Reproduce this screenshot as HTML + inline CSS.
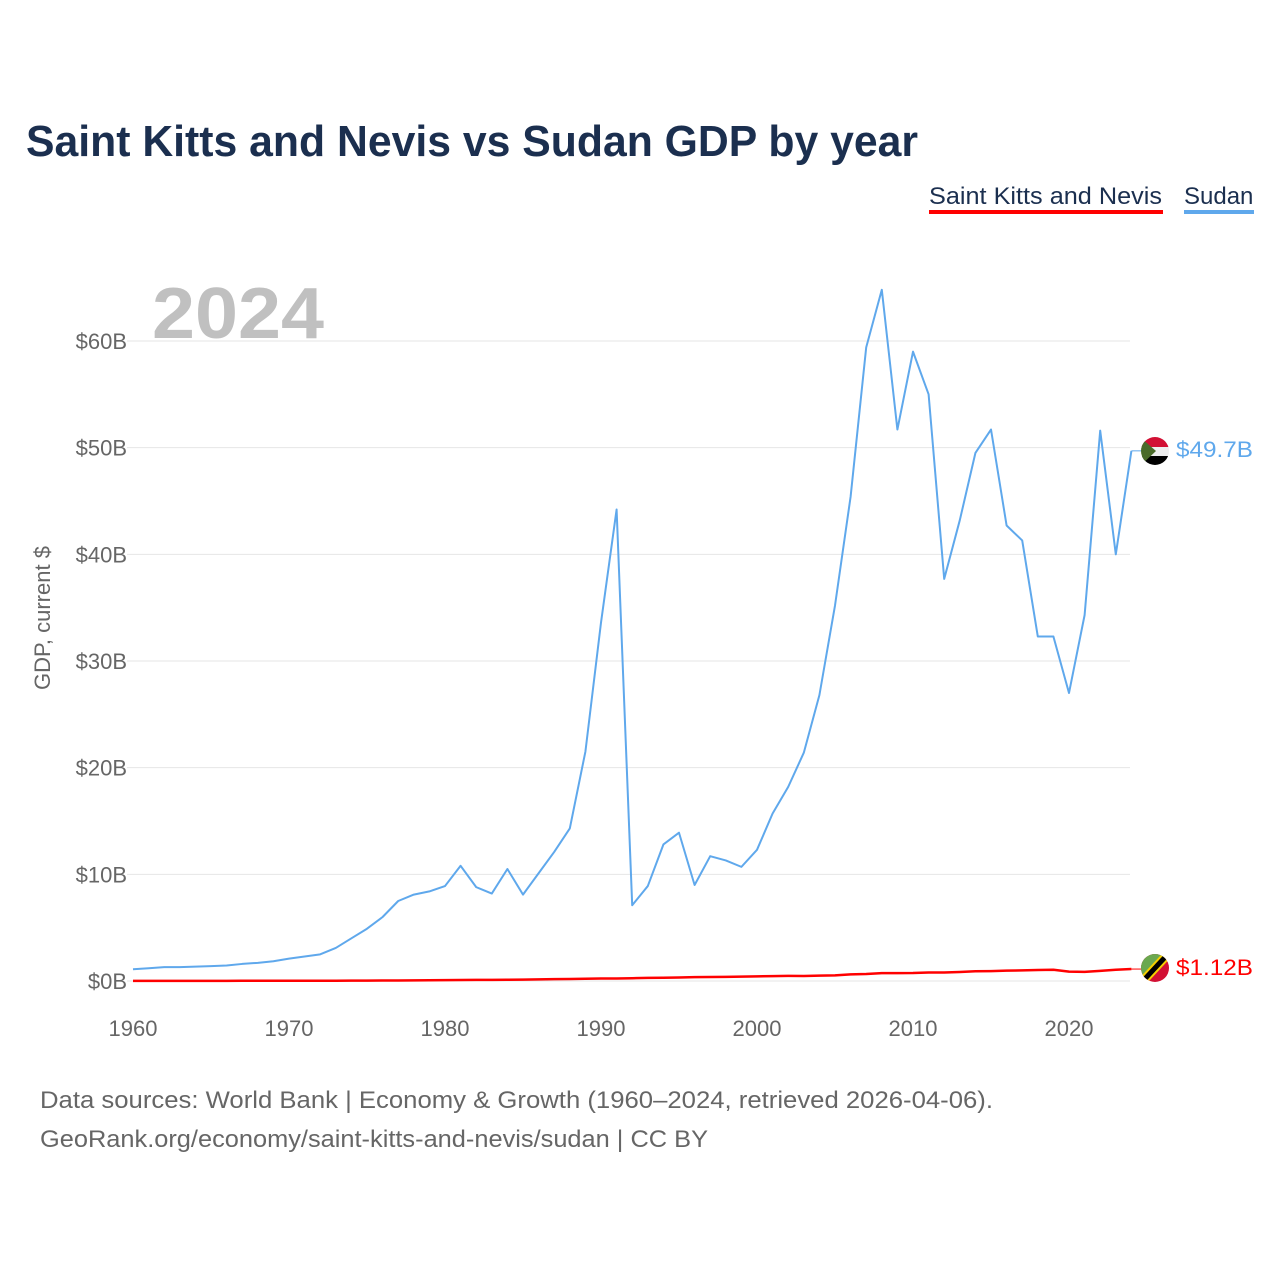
<!DOCTYPE html>
<html><head><meta charset="utf-8"><style>
body{margin:0;background:#fff;width:1280px;height:1280px;overflow:hidden;font-family:"Liberation Sans",sans-serif}
</style></head><body>
<svg id="chart" width="1280" height="1280" xmlns="http://www.w3.org/2000/svg" font-family="Liberation Sans, sans-serif">
<text x="26" y="156" font-size="44" font-weight="bold" fill="#1b2f4f" textLength="892" lengthAdjust="spacingAndGlyphs">Saint Kitts and Nevis vs Sudan GDP by year</text>
<g><text x="929" y="204" font-size="24" fill="#1b2f4f" textLength="233" lengthAdjust="spacingAndGlyphs">Saint Kitts and Nevis</text><rect x="929" y="210" width="234" height="4" fill="#ff0000"/></g>
<g><text x="1184" y="204" font-size="24" fill="#1b2f4f">Sudan</text><rect x="1184" y="210" width="70" height="4" fill="#5fa8ec"/></g>
<text x="152" y="338" font-size="72" font-weight="bold" fill="#c0c0c0" textLength="172" lengthAdjust="spacingAndGlyphs">2024</text>
<text transform="translate(50,618) rotate(-90)" text-anchor="middle" font-size="22" fill="#666">GDP, current $</text>
<g id="grid"></g><g id="xt"></g>
<g id="lines"></g>
<g>
<clipPath id="c1"><circle cx="1155" cy="451" r="14"/></clipPath>
<g clip-path="url(#c1)"><rect x="1140" y="437" width="30" height="10" fill="#d21034"/><rect x="1140" y="447" width="30" height="9" fill="#eee"/><rect x="1140" y="456" width="30" height="10" fill="#000"/><polygon points="1140,437 1156,451 1140,466" fill="#4a6b2a"/></g></g>
<text x="1176" y="457" font-size="22" fill="#5fa8ec" textLength="77" lengthAdjust="spacingAndGlyphs">$49.7B</text>
<g>
<clipPath id="c2"><circle cx="1155" cy="968" r="14"/></clipPath>
<g clip-path="url(#c2)"><rect x="1140" y="953" width="30" height="30" fill="#d21034"/><polygon points="1140,953 1170,953 1140,983" fill="#6aa84f"/><line x1="1142" y1="982" x2="1168" y2="954" stroke="#f5d000" stroke-width="9"/><line x1="1142" y1="982" x2="1168" y2="954" stroke="#000" stroke-width="5"/></g></g>
<text x="1176" y="975" font-size="22" fill="#ff0000" textLength="77" lengthAdjust="spacingAndGlyphs">$1.12B</text>
<text x="40" y="1108" font-size="24" fill="#666" textLength="953" lengthAdjust="spacingAndGlyphs">Data sources: World Bank | Economy &amp; Growth (1960–2024, retrieved 2026-04-06).</text>
<text x="40" y="1147" font-size="24" fill="#666" textLength="668" lengthAdjust="spacingAndGlyphs">GeoRank.org/economy/saint-kitts-and-nevis/sudan | CC BY</text>
</svg>
<script>
const years=[];for(let y=1960;y<=2024;y++)years.push(y);
const sudan=[1.1,1.2,1.3,1.3,1.35,1.4,1.45,1.6,1.7,1.85,2.1,2.3,2.5,3.1,4.0,4.9,6.0,7.5,8.1,8.4,8.9,10.8,8.8,8.2,10.5,8.1,10.1,12.1,14.3,21.5,33.6,44.2,7.1,8.9,12.8,13.9,9.0,11.7,11.3,10.7,12.3,15.7,18.2,21.4,26.8,35.2,45.4,59.4,64.8,51.7,59.0,55.0,37.7,43.2,49.5,51.7,42.7,41.3,32.3,32.3,27.0,34.3,51.6,40.0,49.7];
const skn=[0.012,0.013,0.013,0.014,0.015,0.016,0.017,0.018,0.019,0.02,0.021,0.022,0.024,0.028,0.032,0.036,0.042,0.05,0.06,0.07,0.08,0.09,0.1,0.11,0.12,0.13,0.15,0.17,0.19,0.21,0.23,0.24,0.26,0.29,0.31,0.33,0.36,0.38,0.39,0.41,0.43,0.46,0.48,0.47,0.5,0.53,0.62,0.66,0.74,0.74,0.75,0.8,0.8,0.84,0.91,0.93,0.97,1.0,1.03,1.05,0.88,0.86,0.95,1.05,1.12];
const yTicks=[0,10,20,30,40,50,60];
const xTicks=[1960,1970,1980,1990,2000,2010,2020];
const NS='http://www.w3.org/2000/svg';
const X=y=>133+(y-1960)*15.6, Y=v=>981-v*10.667;
const grid=document.getElementById('grid'),xt=document.getElementById('xt'),lines=document.getElementById('lines');
function mk(t,a,p){const e=document.createElementNS(NS,t);for(const k in a)e.setAttribute(k,a[k]);p.appendChild(e);return e;}
yTicks.forEach(v=>{
 const l=mk('line',{x1:127,x2:1130,y1:Y(v),y2:Y(v),stroke:'#e6e6e6','stroke-width':1},grid);
 
 
 const t=mk('text',{x:127,y:Y(v)+8,'text-anchor':'end','font-size':22,fill:'#666'},grid);
 t.textContent='$'+v+'B';
 
 
});
xTicks.forEach(v=>{
 const t=mk('text',{x:X(v),y:1036,'text-anchor':'middle','font-size':22,fill:'#666'},xt);
 t.textContent=v;
 
 
});
function line(d,c,w,n){
 const p=mk('polyline',{points:d.map((v,i)=>X(years[i])+','+Y(v)).join(' '),fill:'none',stroke:c,'stroke-width':w,'stroke-linejoin':'round'},lines);
 
 
 const L=d.length-1;
 mk('line',{x1:X(years[L]),y1:Y(d[L]),x2:1141,y2:Y(d[L]),stroke:c,'stroke-width':1},lines);
}
line(sudan,'#5fa8ec',2,'sudan-line');
line(skn,'#ff0000',2.5,'skn-line');
</script>
</body></html>
